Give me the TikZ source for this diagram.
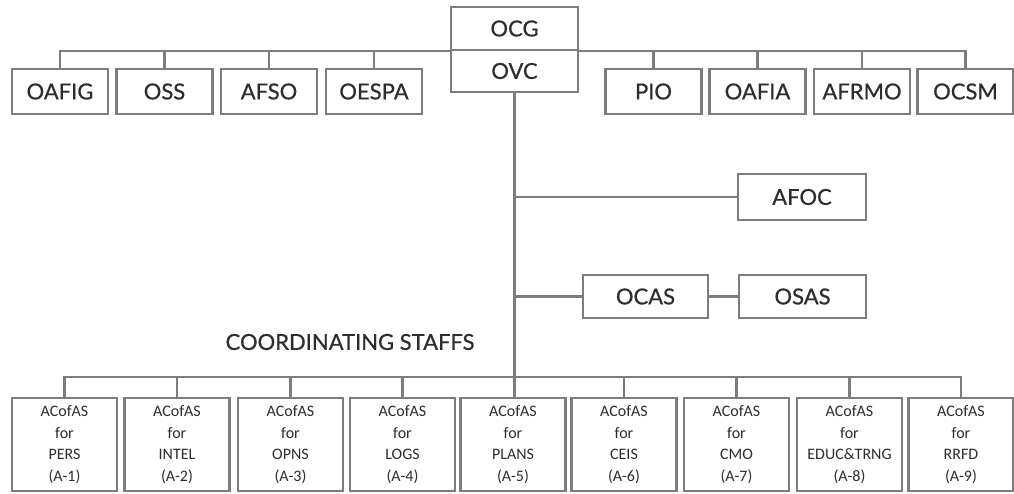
\documentclass[tikz,border=0pt]{standalone}
\usepackage{fontspec}
\setmainfont{Carlito}
\newfontfamily\topfont[FakeBold=0.6]{Lato}
\definecolor{linegray}{RGB}{125,125,125}
\definecolor{textgray}{RGB}{45,45,45}
\begin{document}
\begin{tikzpicture}[x=1pt,y=-1pt,
  line width=2.2pt,
  every node/.style={text=textgray},
  topbox/.style={draw=linegray,rectangle,inner sep=0pt,minimum width=96pt,minimum height=45pt,
     font=\topfont\fontsize{22}{24}\selectfont},
  midbox/.style={draw=linegray,rectangle,inner sep=0pt,minimum width=127pt,minimum height=44pt,
     font=\topfont\fontsize{22}{24}\selectfont},
  staffbox/.style={draw=linegray,rectangle,inner sep=0pt,minimum width=105pt,minimum height=93pt,
     align=center,font=\fontsize{16}{21.5}\selectfont},
  conn/.style={draw=linegray,line width=2.2pt}]
\useasboundingbox (0,0) rectangle (1014,493);
\fill[white] (0,0) rectangle (1014,493);
% head
\node[midbox,minimum height=43pt] (OCG) at (514.5,28.5) {OCG};
\node[midbox,minimum height=42pt] (OVC) at (514.5,71) {OVC};
% top row
\node[topbox] (OAFIG) at (60,91.5) {OAFIG};
\node[topbox] (OSS) at (164.5,91.5) {OSS};
\node[topbox] (AFSO) at (269,91.5) {AFSO};
\node[topbox] (OESPA) at (374,91.5) {OESPA};
\node[topbox] (PIO) at (653.5,91.5) {PIO};
\node[topbox] (OAFIA) at (757.5,91.5) {OAFIA};
\node[topbox] (AFRMO) at (862,91.5) {AFRMO};
\node[topbox] (OCSM) at (965.5,91.5) {OCSM};
% middle
\node[midbox,minimum width=128pt,minimum height=46pt] (AFOC) at (802,197) {AFOC};
\node[midbox,minimum width=125pt,minimum height=43pt] (OCAS) at (645.5,296.5) {OCAS};
\node[midbox,minimum width=127pt,minimum height=43pt] (OSAS) at (802.5,296.5) {OSAS};
\node[font=\topfont\fontsize{22}{24}\selectfont] (CS) at (350,342) {COORDINATING STAFFS};
% bottom row
\node[staffbox] (A1) at (64.5,444.5) {ACofAS\\for\\PERS\\(A-1)};
\node[staffbox] (A2) at (177,444.5) {ACofAS\\for\\INTEL\\(A-2)};
\node[staffbox] (A3) at (290.5,444.5) {ACofAS\\for\\OPNS\\(A-3)};
\node[staffbox] (A4) at (402.5,444.5) {ACofAS\\for\\LOGS\\(A-4)};
\node[staffbox] (A5) at (513,444.5) {ACofAS\\for\\PLANS\\(A-5)};
\node[staffbox] (A6) at (624,444.5) {ACofAS\\for\\CEIS\\(A-6)};
\node[staffbox] (A7) at (736.5,444.5) {ACofAS\\for\\CMO\\(A-7)};
\node[staffbox] (A8) at (849.5,444.5) {ACofAS\\for\\EDUC\&TRNG\\(A-8)};
\node[staffbox] (A9) at (961,444.5) {ACofAS\\for\\RRFD\\(A-9)};
\coordinate (bus) at (0,377);
% top bus
\draw[conn] (OCG.south west) -- (OAFIG.north |- OCG.south) -- (OAFIG.north);
\draw[conn] (OCG.south east) -- (OCSM.north |- OCG.south) -- (OCSM.north);
\foreach \n in {OSS,AFSO,OESPA,PIO,OAFIA,AFRMO}
  \draw[conn] (\n.north) -- (\n.north |- OCG.south);
% trunk
\draw[conn] (OVC.south) -- (OVC.south |- A5.north);
\draw[conn] (AFOC.west) -- (AFOC.west -| OVC.south);
\draw[conn] (OCAS.west) -- (OCAS.west -| OVC.south);
\draw[conn] (OCAS) -- (OSAS);
% bottom bus
\draw[conn] (A1.north) -- (A1.north |- bus) -- (A9.north |- bus) -- (A9.north);
\foreach \n in {A2,A3,A4,A6,A7,A8}
  \draw[conn] (\n.north) -- (\n.north |- bus);
\end{tikzpicture}
\end{document}
